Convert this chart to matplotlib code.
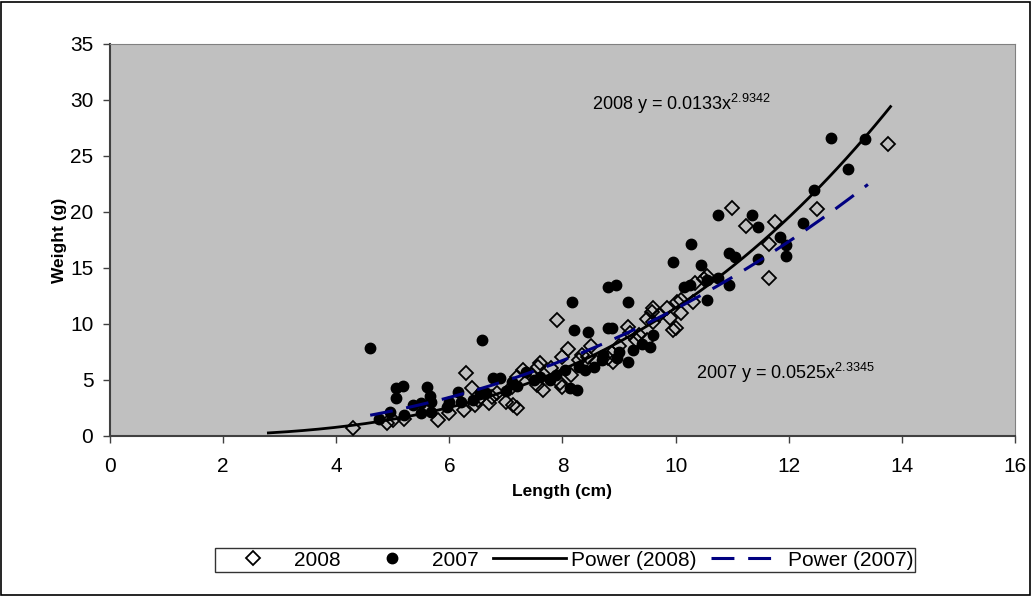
import numpy as np
import matplotlib
matplotlib.use("Agg")
import matplotlib.pyplot as plt
from matplotlib.patches import Rectangle

plt.rcParams['font.family'] = ['Liberation Sans', 'DejaVu Sans']
plt.rcParams['mathtext.fontset'] = 'custom'
plt.rcParams['mathtext.rm'] = 'Liberation Sans'
plt.rcParams['mathtext.default'] = 'regular'

# 2008 samples (diamonds)
len_2008 = [4.3, 4.9, 5.0, 5.2, 5.8, 6.0, 6.25, 6.3, 6.4, 6.45, 6.5, 6.7, 6.75, 6.85,
            7.0, 7.1, 7.12, 7.2, 7.2, 7.3, 7.45, 7.55, 7.57, 7.6, 7.65, 7.8, 7.9, 7.95,
            8.0, 8.0, 8.1, 8.15, 8.3, 8.35, 8.45, 8.5, 8.6, 8.8, 8.87, 8.9, 9.0, 9.15,
            9.2, 9.3, 9.35, 9.5, 9.5, 9.58, 9.6, 9.6, 9.7, 9.85, 9.9, 9.95, 10.0, 10.02,
            10.1, 10.1, 10.3, 10.35, 10.5, 10.55, 11.0, 11.25, 11.65, 11.65, 11.75,
            12.5, 13.75]
wt_2008 = [0.7, 1.15, 1.4, 1.5, 1.45, 2.05, 2.3, 5.6, 4.3, 2.8, 3.2, 2.95, 3.5, 3.85,
           3.05, 4.4, 2.75, 2.5, 5.25, 5.9, 5.45, 4.55, 6.2, 6.5, 4.1, 6.05, 10.35, 4.75,
           4.4, 7.05, 7.8, 5.45, 6.8, 7.25, 7.05, 8.0, 6.6, 7.0, 7.4, 6.6, 8.0, 9.7,
           9.2, 8.6, 9.0, 10.4, 8.6, 11.1, 10.2, 11.4, 10.8, 11.4, 10.5, 9.45, 9.6, 12.0,
           11.0, 12.1, 12.0, 13.7, 14.0, 14.25, 20.4, 18.75, 17.1, 14.1, 19.1,
           20.3, 26.1]

# 2007 samples (filled circles)
len_2007 = [4.6, 4.75, 4.95, 5.05, 5.05, 5.18, 5.2, 5.35, 5.5, 5.5, 5.6, 5.65, 5.67,
            5.67, 5.95, 6.0, 6.15, 6.2, 6.42, 6.55, 6.58, 6.65, 6.78, 6.9, 7.0, 7.1,
            7.2, 7.35, 7.5, 7.6, 7.78, 7.88, 8.05, 8.13, 8.17, 8.2, 8.25, 8.3, 8.4,
            8.45, 8.55, 8.7, 8.72, 8.8, 8.8, 8.87, 8.95, 8.96, 9.0, 9.15, 9.15, 9.25,
            9.4, 9.55, 9.6, 9.95, 10.15, 10.25, 10.28, 10.45, 10.55, 10.55, 10.75,
            10.75, 10.95, 10.95, 11.05, 11.35, 11.45, 11.45, 11.85, 11.95, 11.95,
            12.25, 12.45, 12.75, 13.05, 13.35]
wt_2007 = [7.85, 1.5, 2.15, 3.4, 4.3, 4.45, 1.9, 2.75, 2.95, 2.05, 4.4, 3.6, 3.05,
           2.15, 2.6, 3.0, 3.95, 3.05, 3.2, 3.85, 8.6, 3.85, 5.2, 5.2, 4.0, 4.8,
           4.5, 5.7, 5.0, 5.3, 5.0, 5.45, 5.9, 4.3, 11.95, 9.5, 4.1, 6.2, 5.9,
           9.3, 6.15, 6.8, 7.2, 9.6, 13.3, 9.65, 13.5, 6.95, 7.5, 12.0, 6.6, 7.7,
           8.2, 7.95, 9.0, 15.5, 13.3, 13.5, 17.15, 15.3, 12.1, 13.9, 14.1,
           19.7, 13.5, 16.3, 16.0, 19.7, 18.7, 15.8, 17.8, 17.05, 16.1,
           19.0, 22.0, 26.6, 23.8, 26.5]

# power trendlines as reported on the chart
fit_2008 = (0.0133, 2.9342, 2.8, 13.8)
fit_2007 = (0.0525, 2.3345, 4.6, 13.4)

fig = plt.figure(figsize=(10.32, 5.96), dpi=100)
ax = fig.add_axes([0.1066, 0.2685, 0.8769, 0.6577])
ax.set_facecolor('#C0C0C0')

ax.plot(len_2008, wt_2008, linestyle='none', marker='D', markersize=7.5,
        markerfacecolor='none', markeredgecolor='black', markeredgewidth=1.3,
        label='2008', zorder=3)
ax.plot(len_2007, wt_2007, linestyle='none', marker='o', markersize=7.5,
        markerfacecolor='black', markeredgecolor='black', label='2007', zorder=3)

a, b, x0, x1 = fit_2008
xs = np.linspace(x0, x1, 200)
ax.plot(xs, a * xs ** b, color='black', lw=2, label='Power (2008)', zorder=4)
a, b, x0, x1 = fit_2007
xs = np.linspace(x0, x1, 200)
ax.plot(xs, a * xs ** b, color='#000080', lw=2.2, dashes=(7.5, 4.5),
        label='Power (2007)', zorder=4)

ax.set_xlim(0, 16)
ax.set_ylim(0, 35)
ax.set_xticks(range(0, 17, 2))
ax.set_yticks(range(0, 36, 5))
ax.tick_params(direction='out', length=5, width=1, color='#404040', labelsize=15)
ax.tick_params(axis='y', pad=7)
ax.tick_params(axis='x', pad=10)
for s in ax.spines.values():
    s.set_color('#808080')
ax.spines['left'].set_color('#404040')
ax.spines['bottom'].set_color('#404040')
ax.spines['left'].set_linewidth(1.5)
ax.spines['bottom'].set_linewidth(1.5)

ax.set_xlabel('Length (cm)', fontsize=12.5, fontweight='bold', labelpad=6)
ax.set_ylabel('Weight (g)', fontsize=12.5, fontweight='bold', labelpad=2)

ax.text(8.52, 29.1, r'2008 y = 0.0133x$^{2.9342}$', fontsize=13, va='baseline')
ax.text(10.36, 5.1, r'2007 y = 0.0525x$^{2.3345}$', fontsize=13, va='baseline')

leg = fig.legend(loc='center', bbox_to_anchor=(0.5475, 0.0604), ncol=4,
                 fontsize=15, frameon=True, fancybox=False, handlelength=3.5,
                 columnspacing=0.7, handletextpad=0.2, borderpad=0.1)
leg.get_frame().set_edgecolor('black')
leg.get_frame().set_linewidth(1)

fig.patches.append(Rectangle((0.001, 0.002), 0.997, 0.995, transform=fig.transFigure,
                             fill=False, edgecolor='black', linewidth=1.2))

fig.savefig('out.png', dpi=100)
